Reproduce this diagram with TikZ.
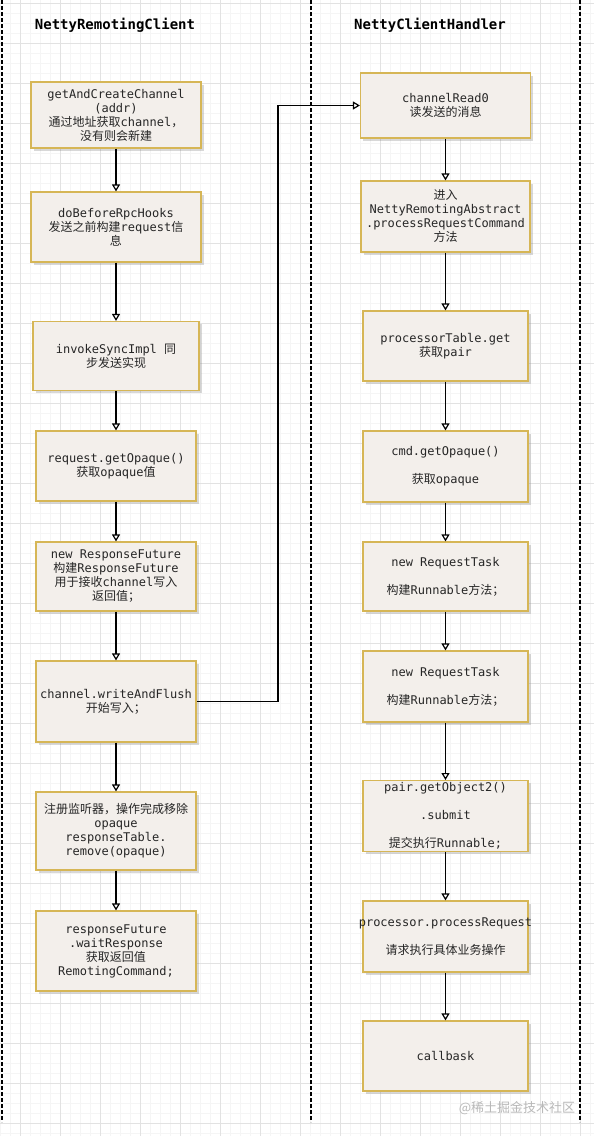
\documentclass[tikz,border=0pt]{standalone}
\usepackage{fontspec}
\setmonofont{DejaVu Sans Mono}
\newfontfamily\cjk{Noto Sans CJK SC}
\usepackage{tikz}
\usetikzlibrary{arrows.meta,shadows}
\definecolor{boxfill}{HTML}{F3EFEB}
\definecolor{boxline}{HTML}{D6B656}
\definecolor{gridmajor}{HTML}{E2E2E2}
\definecolor{gridminor}{HTML}{F5F5F5}
\newcommand\zh[1]{{\cjk #1}}

\begin{document}
\begin{tikzpicture}[x=1pt,y=-1pt,
    box/.style={draw=boxline,line width=1.2pt,fill=boxfill,align=center,inner sep=2pt,
      font=\ttfamily\fontsize{12}{14}\selectfont,text=black!85,
      drop shadow={shadow xshift=2.5pt,shadow yshift=-2.5pt,opacity=.25,fill=black!60}},
    lane/.style={line width=1.2pt,dash pattern=on 4pt off 2pt},
    arr/.style={line width=1.2pt,-{Triangle[open,width=8pt,length=7pt]}},
    title/.style={font=\ttfamily\bfseries\fontsize{14}{16}\selectfont}]

  \useasboundingbox (0,0) rectangle (594,1136);
  \fill[white] (0,0) rectangle (594,1136);

  % grid
  \foreach \x in {0,10,...,590} \draw[gridminor,line width=.8pt] (\x,0) -- (\x,1136);
  \foreach \y in {3,13,...,1133} \draw[gridminor,line width=.8pt] (0,\y) -- (594,\y);
  \foreach \x in {20,60,...,580} \draw[gridmajor,line width=.8pt] (\x,0) -- (\x,1136);
  \foreach \y in {3,43,...,1123} \draw[gridmajor,line width=.8pt] (0,\y) -- (594,\y);

  % lanes
  \foreach \x in {2,311,580} \draw[lane] (\x,0) -- (\x,1122);
  \node[title] (client) at (115,25) {NettyRemotingClient};
  \node[title] (handler) at (430,25) {NettyClientHandler};

  % NettyRemotingClient
  \node[box,minimum width=170pt,minimum height=66pt] (getch) at (116,115)
    {getAndCreateChannel\\(addr)\\\zh{通过地址获取}channel\zh{，}\\\zh{没有则会新建}};
  \node[box,minimum width=170pt,minimum height=70pt] (hooks) at (116,227)
    {doBeforeRpcHooks\\\zh{发送之前构建}request\zh{信}\\\zh{息}};
  \node[box,minimum width=166pt,minimum height=69pt] (invoke) at (116,356)
    {invokeSyncImpl \zh{同}\\\zh{步发送实现}};
  \node[box,minimum width=160pt,minimum height=70pt] (opq) at (116,466)
    {request.getOpaque()\\\zh{获取}opaque\zh{值}};
  \node[box,minimum width=160pt,minimum height=69pt] (future) at (116,576.5)
    {new ResponseFuture\\\zh{构建}ResponseFuture\\\zh{用于接收}channel\zh{写入}\\\zh{返回值；}};
  \node[box,minimum width=160pt,minimum height=81pt] (flush) at (116,701.5)
    {channel.writeAndFlush\\\zh{开始写入；}};
  \node[box,minimum width=160pt,minimum height=78pt] (listen) at (116,831)
    {\zh{注册监听器，操作完成移除}\\opaque\\responseTable.\\remove(opaque)};
  \node[box,minimum width=160pt,minimum height=80pt] (wait) at (116,951)
    {responseFuture\\.waitResponse\\\zh{获取返回值}\\RemotingCommand;};

  % NettyClientHandler
  \node[box,minimum width=170pt,minimum height=65pt] (read) at (445.5,105.5)
    {channelRead0\\\zh{读发送的消息}};
  \node[box,minimum width=169pt,minimum height=71pt] (proc) at (445.5,216.5)
    {\zh{进入}\\NettyRemotingAbstract\\.processRequestCommand\\\zh{方法}};
  \node[box,minimum width=165pt,minimum height=70pt] (table) at (445.5,346)
    {processorTable.get\\\zh{获取}pair};
  \node[box,minimum width=165pt,minimum height=71pt] (cmdop) at (445.5,466.5)
    {cmd.getOpaque()\\[14pt]\zh{获取}opaque};
  \node[box,minimum width=165pt,minimum height=69pt] (task1) at (445.5,576.5)
    {new RequestTask\\[14pt]\zh{构建}Runnable\zh{方法；}};
  \node[box,minimum width=165pt,minimum height=71pt] (task2) at (445.5,686.5)
    {new RequestTask\\[14pt]\zh{构建}Runnable\zh{方法；}};
  \node[box,minimum width=165pt,minimum height=70pt] (submit) at (445.5,816)
    {pair.getObject2()\\[14pt].submit\\[14pt]\zh{提交执行}Runnable;};
  \node[box,minimum width=165pt,minimum height=71pt] (handle) at (445.5,936.5)
    {\makebox[150pt]{processor.processRequest}\\[14pt]\zh{请求执行具体业务操作}};
  \node[box,minimum width=165pt,minimum height=70pt] (cb) at (445.5,1056)
    {callbask};

  \foreach \a/\b in {getch/hooks,hooks/invoke,invoke/opq,opq/future,future/flush,flush/listen,listen/wait,
      read/proc,proc/table,table/cmdop,cmdop/task1,task1/task2,task2/submit,submit/handle,handle/cb}
    \draw[arr] (\a.south) -- (\a.south |- \b.north);

  % writeAndFlush -> channelRead0
  \coordinate (bend) at (278,0);
  \draw[arr] (flush.east) -- (flush.east -| bend) -- (read.west -| bend) -- (read.west);

  \node[text=gray!55,font=\cjk\fontsize{13}{15}\selectfont] (mark) at (517,1108) {@稀土掘金技术社区};
\end{tikzpicture}
\end{document}
